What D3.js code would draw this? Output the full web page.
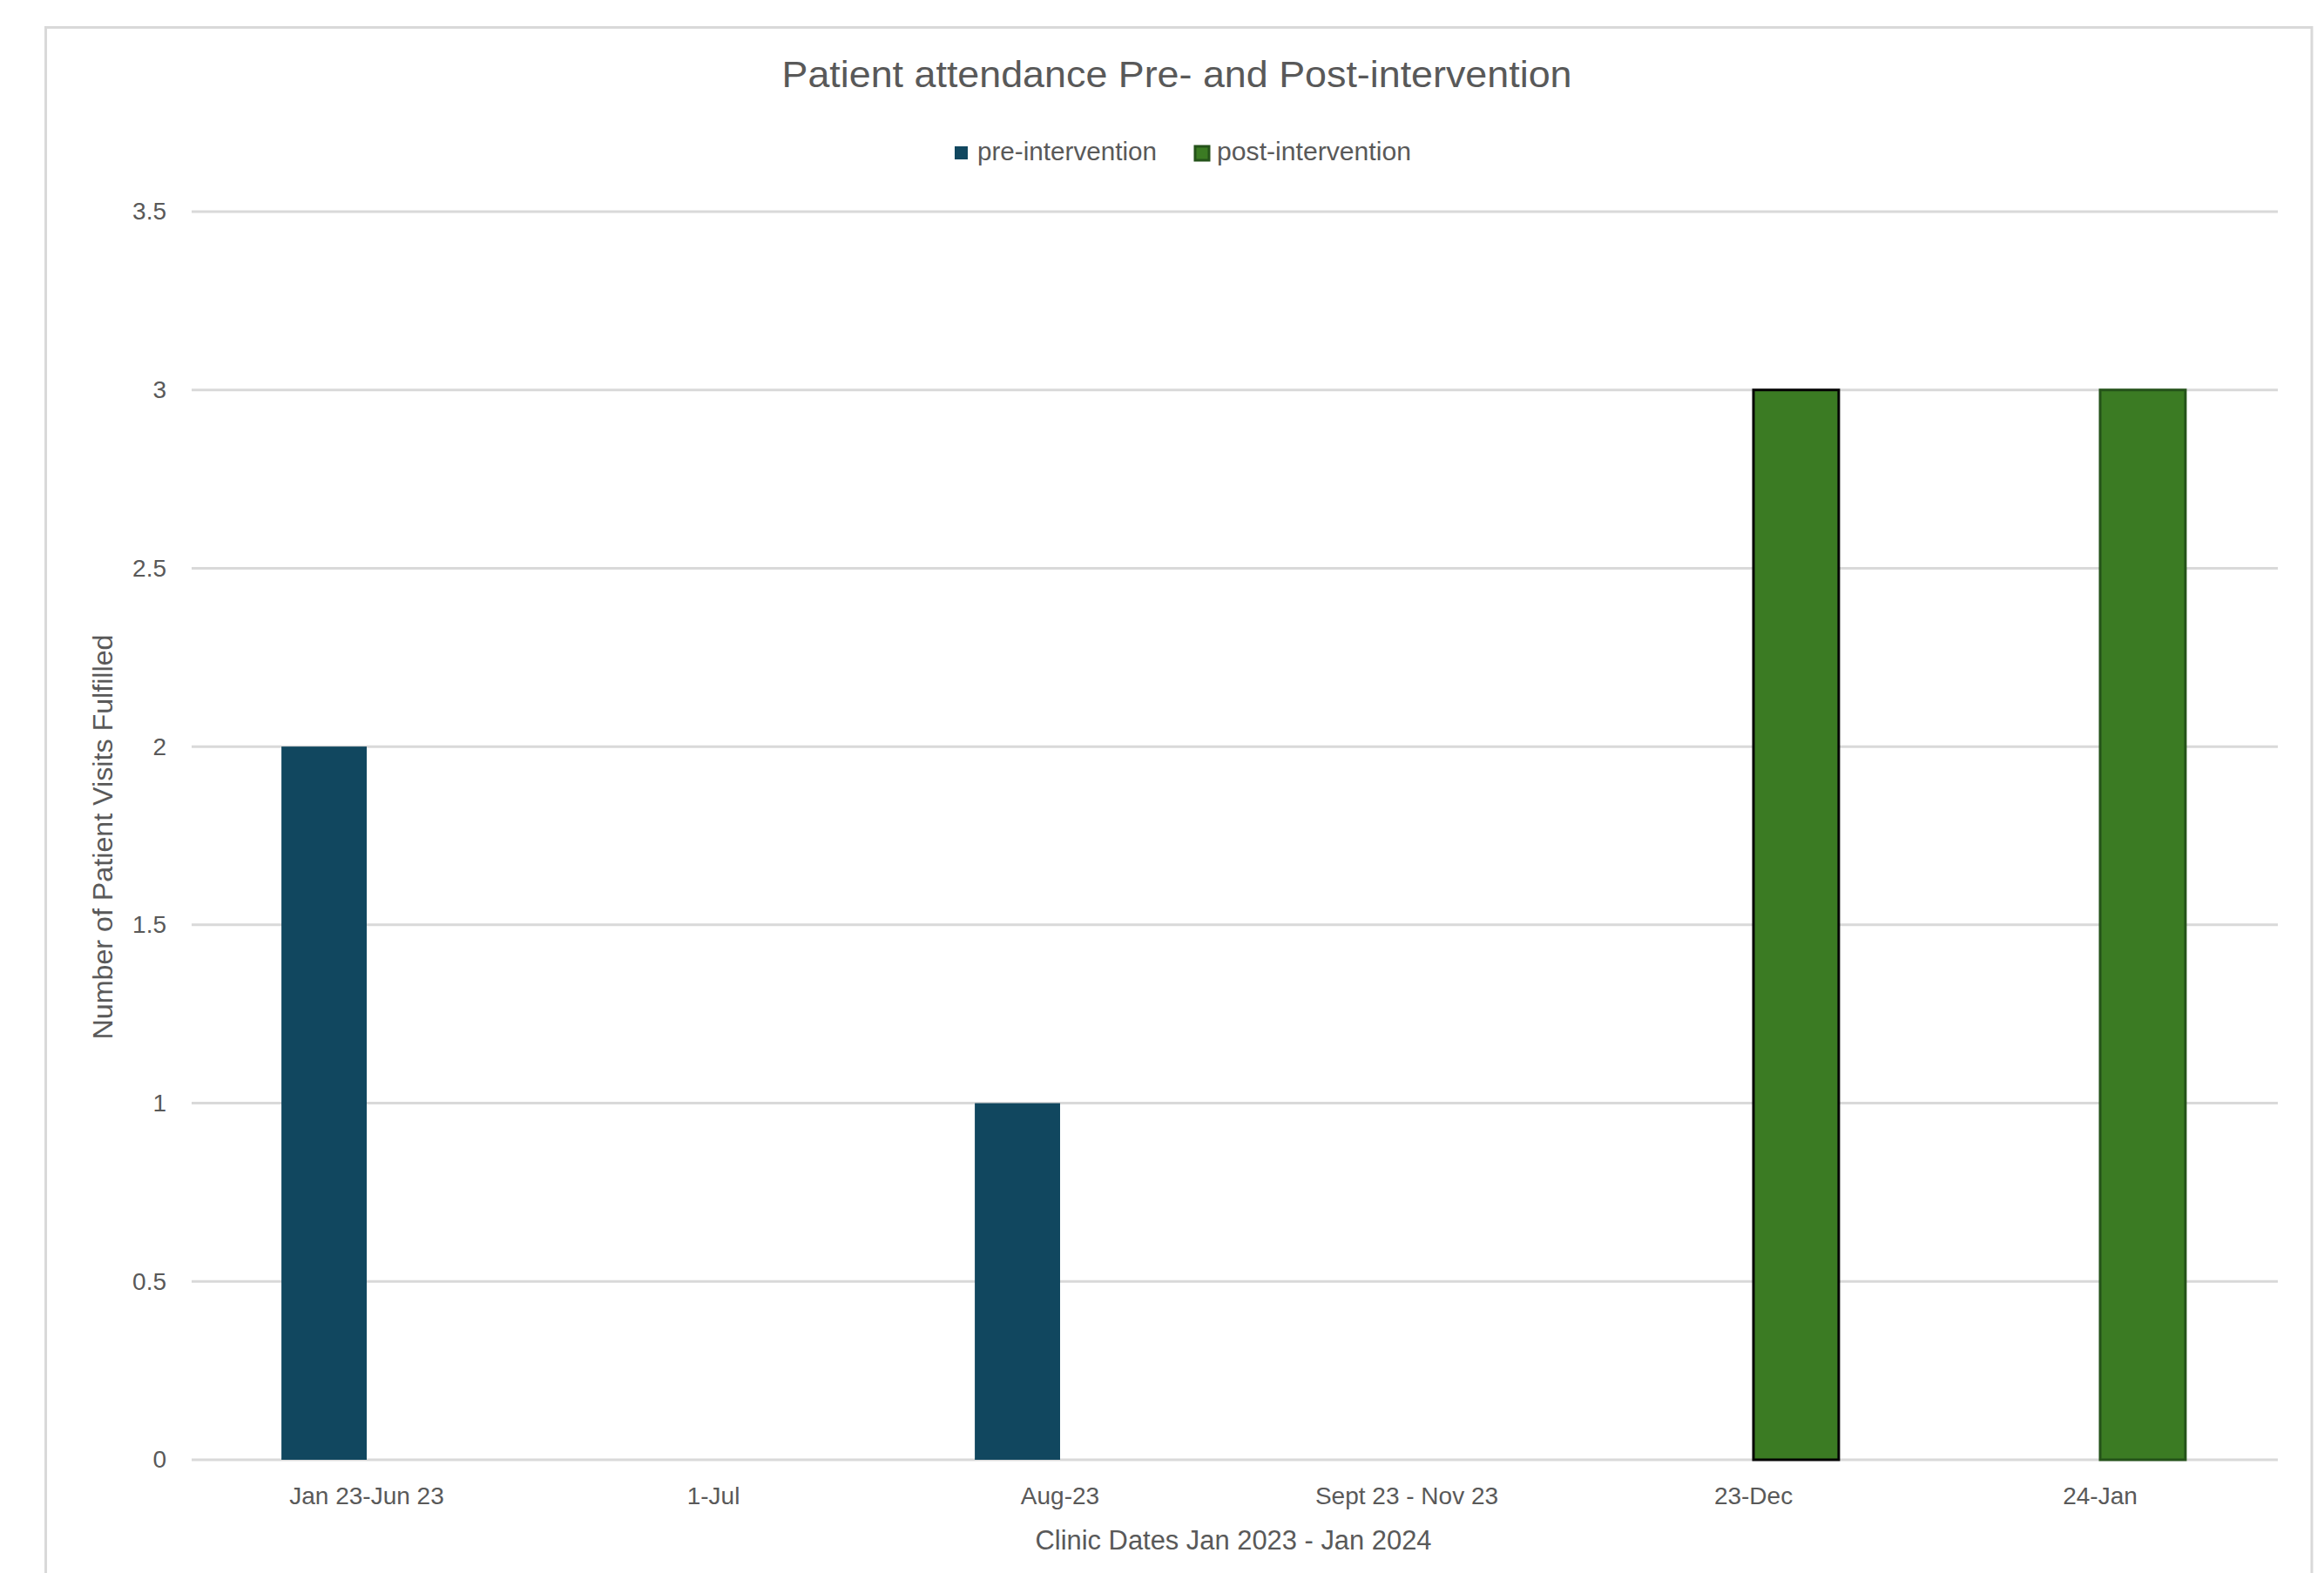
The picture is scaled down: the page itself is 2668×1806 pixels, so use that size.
<!DOCTYPE html>
<html>
<head>
<meta charset="utf-8">
<script src="https://cdn.jsdelivr.net/npm/d3@7"></script>
<style>
  html, body { margin: 0; padding: 0; background: #ffffff; }
  svg { display: block; }
  text { font-family: "Liberation Sans", Arial, "DejaVu Sans", sans-serif; fill: #595959; }
</style>
</head>
<body>
<svg id="chart" width="2668" height="1806"></svg>
<script>
// ---- data ----
const categories = ["Jan 23-Jun 23", "1-Jul", "Aug-23", "Sept 23 - Nov 23", "23-Dec", "24-Jan"];
const seriesNames = ["pre-intervention", "post-intervention"];
const preValues  = [2, null, 1, null, null, null];
const postValues = [null, null, null, null, 3, 3];
const yTicks = [0, 0.5, 1, 1.5, 2, 2.5, 3, 3.5];
const yTickLabels = ["0", "0.5", "1", "1.5", "2", "2.5", "3", "3.5"];
const chartTitle = "Patient attendance Pre- and Post-intervention";
const xTitle = "Clinic Dates Jan 2023 - Jan 2024";
const yTitle = "Number of Patient Visits Fulfilled";

// ---- styles ----
const fills = { "pre-intervention": "#11475f", "post-intervention": "#3b7b23" };
const postStroke = { "23-Dec": "#050505", "24-Jan": "#25531a" };
const gridColor = "#d9d9d9";

const svg = d3.select("#chart");
const plot = { left: 222, right: 2610, top: 243, bottom: 1676 };

// outer chart border
svg.append("rect")
  .attr("x", 52.5).attr("y", 31.5)
  .attr("width", 2654 - 52.5).attr("height", 1900)
  .attr("fill", "#fff").attr("stroke", gridColor).attr("stroke-width", 3);

const x0 = d3.scaleBand().domain(categories).range([plot.left, plot.right])
  .paddingInner(0.508).paddingOuter(0.254);
const x1 = d3.scaleBand().domain(seriesNames).range([0, x0.bandwidth()]).padding(0);
const y = d3.scaleLinear().domain([0, 3.5]).range([plot.bottom, plot.top]);

// gridlines
svg.append("g")
  .selectAll("line").data(yTicks).join("line")
  .attr("x1", 220).attr("x2", 2615)
  .attr("y1", d => y(d)).attr("y2", d => y(d))
  .attr("stroke", gridColor).attr("stroke-width", 3);

// y axis labels
const yAxis = d3.axisLeft(y).tickValues(yTicks)
  .tickFormat((d, i) => yTickLabels[i]).tickSize(0).tickPadding(0);
const gy = svg.append("g").attr("transform", "translate(191,0)").call(yAxis);
gy.select(".domain").remove();
gy.selectAll("text").attr("font-size", 28).attr("fill", "#595959")
  .style("font-family", '"Liberation Sans", Arial, sans-serif');

// x axis labels
const xAxis = d3.axisBottom(x0).tickSize(0).tickPadding(0);
const gx = svg.append("g").attr("transform", `translate(0,${plot.bottom})`).call(xAxis);
gx.select(".domain").remove();
gx.selectAll("text").attr("font-size", 28).attr("fill", "#595959")
  .attr("dy", null).attr("y", 51)
  .style("font-family", '"Liberation Sans", Arial, sans-serif');

// bars
const rows = categories.map((c, i) => ({ cat: c, vals: [
  { s: "pre-intervention", v: preValues[i] },
  { s: "post-intervention", v: postValues[i] }
]}));

const groups = svg.append("g").selectAll("g").data(rows).join("g")
  .attr("transform", d => `translate(${x0(d.cat)},0)`);

groups.selectAll("rect")
  .data(d => d.vals.filter(v => v.v != null).map(v => ({ ...v, cat: d.cat })))
  .join("rect")
  .attr("x", d => x1(d.s))
  .attr("width", x1.bandwidth())
  .attr("y", d => y(d.v))
  .attr("height", d => y(0) - y(d.v))
  .attr("fill", d => fills[d.s])
  .attr("stroke", d => d.s === "post-intervention" ? (postStroke[d.cat] || "none") : "none")
  .attr("stroke-width", d => d.s === "post-intervention" ? 3 : 0);

// title
svg.append("text")
  .attr("x", 1351).attr("y", 100)
  .attr("text-anchor", "middle")
  .attr("font-size", 42)
  .attr("textLength", 907).attr("lengthAdjust", "spacingAndGlyphs")
  .text(chartTitle);

// legend
const legendItems = [
  { name: seriesNames[0], sx: 1096, sy: 168, size: 15, stroke: "none", tx: 1122, tw: 206 },
  { name: seriesNames[1], sx: 1372, sy: 168, size: 16, stroke: "#25531a", tx: 1397, tw: 223 }
];
const lg = svg.append("g");
lg.selectAll("rect").data(legendItems).join("rect")
  .attr("x", d => d.sx).attr("y", d => d.sy)
  .attr("width", d => d.size).attr("height", d => d.size)
  .attr("fill", d => fills[d.name])
  .attr("stroke", d => d.stroke).attr("stroke-width", 3);
lg.selectAll("text").data(legendItems).join("text")
  .attr("x", d => d.tx).attr("y", 184)
  .attr("font-size", 29)
  .attr("textLength", d => d.tw).attr("lengthAdjust", "spacingAndGlyphs")
  .text(d => d.name);

// x axis title
svg.append("text")
  .attr("x", 1416).attr("y", 1779)
  .attr("text-anchor", "middle")
  .attr("font-size", 31)
  .attr("textLength", 455).attr("lengthAdjust", "spacingAndGlyphs")
  .text(xTitle);

// y axis title
svg.append("text")
  .attr("transform", "translate(129,961) rotate(-90)")
  .attr("text-anchor", "middle")
  .attr("font-size", 31)
  .attr("textLength", 465).attr("lengthAdjust", "spacingAndGlyphs")
  .text(yTitle);
</script>
</body>
</html>
